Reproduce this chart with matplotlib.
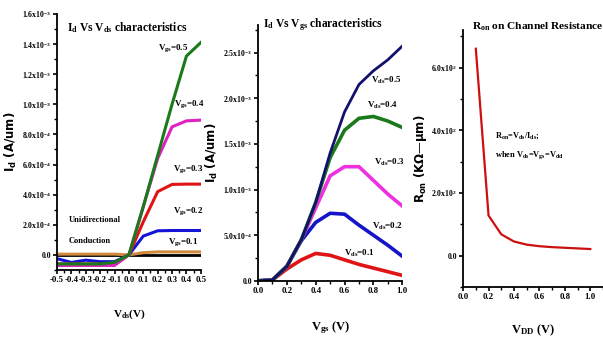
import numpy as np
import matplotlib
matplotlib.use('Agg')
import matplotlib.pyplot as plt
from matplotlib.ticker import MultipleLocator, FixedLocator

plt.rcParams['font.family'] = ['Liberation Serif', 'DejaVu Serif']
plt.rcParams['font.weight'] = 'bold'
plt.rcParams['mathtext.default'] = 'regular'

# Id vs Vds (Vgs = 0 .. 0.5)
vds = [-0.5, -0.4, -0.3, -0.2, -0.1, 0.0, 0.1, 0.2, 0.3, 0.4, 0.5]
id_vgs0 = [0, 0, 0, 0, 0, 0, 0, 0, 0, 0, 0]
id_vgs01 = [0.5e-5, 0.5e-5, 0.5e-5, 0.5e-5, 0.5e-5, 0, 1.5e-5, 2.0e-5, 2.0e-5, 2.0e-5, 2.0e-5]
id_vgs02 = [-2.5e-5, -5e-5, -3.5e-5, -4.5e-5, -4.5e-5, 0, 1.25e-4, 1.6e-4, 1.62e-4, 1.62e-4, 1.62e-4]
id_vgs03 = [-6e-5, -6e-5, -6e-5, -6e-5, -6e-5, 0, 2.2e-4, 4.2e-4, 4.68e-4, 4.7e-4, 4.7e-4]
id_vgs04 = [-7e-5, -7e-5, -7e-5, -7e-5, -7e-5, 0, 3.2e-4, 6.4e-4, 8.5e-4, 8.9e-4, 8.95e-4]
id_vgs05 = [-6e-5, -6e-5, -6e-5, -6e-5, -5e-5, 0, 3.2e-4, 6.6e-4, 1.0e-3, 1.32e-3, 1.41e-3]
vds_ticks = [-0.5, -0.4, -0.3, -0.2, -0.1, 0.0, 0.1, 0.2, 0.3, 0.4, 0.5]
vds_labels = ['-0.5', '-0.4', '-0.3', '-0.2', '-0.1', '0.0', '0.1', '0.2', '0.3', '0.4', '0.5']

# Id vs Vgs (Vds = 0.1 .. 0.5)
vgs = [0.0, 0.1, 0.2, 0.3, 0.4, 0.5, 0.6, 0.7, 0.8, 0.9, 1.0]
id_vds01 = [0, 0.1e-4, 1.3e-4, 2.3e-4, 3.0e-4, 2.8e-4, 2.3e-4, 1.8e-4, 1.4e-4, 1.0e-4, 0.6e-4]
id_vds02 = [0, 0.1e-4, 1.6e-4, 4.4e-4, 6.4e-4, 7.4e-4, 7.3e-4, 6.1e-4, 5.0e-4, 3.9e-4, 2.7e-4]
id_vds03 = [0, 0.1e-4, 1.6e-4, 4.5e-4, 8.0e-4, 1.15e-3, 1.25e-3, 1.25e-3, 1.1e-3, 9.5e-4, 8.2e-4]
id_vds04 = [0, 0.1e-4, 1.6e-4, 4.5e-4, 8.6e-4, 1.35e-3, 1.65e-3, 1.78e-3, 1.8e-3, 1.75e-3, 1.68e-3]
id_vds05 = [0, 0.1e-4, 1.6e-4, 4.5e-4, 8.6e-4, 1.4e-3, 1.85e-3, 2.15e-3, 2.3e-3, 2.42e-3, 2.57e-3]
unit_ticks = [0, 0.2, 0.4, 0.6, 0.8, 1.0]
unit_labels = ['0.0', '0.2', '0.4', '0.6', '0.8', '1.0']

# Ron vs Vdd
vdd = [0.1, 0.2, 0.3, 0.4, 0.5, 0.6, 0.7, 0.8, 0.9, 1.0]
ron = [660, 128, 68, 45, 35, 30, 27, 25, 23, 21]

y1 = [0, 2e-4, 4e-4, 6e-4, 8e-4, 1.0e-3, 1.2e-3, 1.4e-3, 1.6e-3]
y2 = [0, 5e-4, 1.0e-3, 1.5e-3, 2.0e-3, 2.5e-3]
y3 = [0, 200, 400, 600]

fig = plt.figure(figsize=(6.03, 3.4), dpi=100)
ax1 = fig.add_axes([0.0945, 0.206, 0.2385, 0.753])
ax2 = fig.add_axes([0.428, 0.174, 0.239, 0.752])
ax3 = fig.add_axes([0.768, 0.156, 0.232, 0.756])

tick_font = dict(family='Liberation Serif', weight='bold', size=5.6)


def style(ax):
    for s in ['top', 'right']:
        ax.spines[s].set_visible(False)
    for s in ['left', 'bottom']:
        ax.spines[s].set_linewidth(1.3)
    ax.tick_params(which='major', length=3, width=1.2, pad=1.2)
    ax.tick_params(which='minor', length=2, width=1.0)
    for lab in ax.get_xticklabels() + ax.get_yticklabels():
        lab.set_fontproperties(tick_font)
    for lab in ax.get_xticklabels():
        lab.set_fontsize(6.3)


def sci(v):
    if v == 0:
        return '0.0'
    exp = int(np.floor(np.log10(v) + 1e-9))
    return r'%.1fx10$^{%d}$' % (v / 10 ** exp, exp)


ylab_kw = dict(family='DejaVu Sans', fontsize=8.5, fontweight='bold', labelpad=2)
lab_kw = dict(fontsize=6.5, fontweight='bold', ha='center', va='center')

# ---- panel 1
ax1.plot(vds, id_vgs0, color='black', lw=2.0)
ax1.plot(vds, id_vgs01, color='#d08a40', lw=2.2)
ax1.plot(vds, id_vgs02, color='#1414d8', lw=2.2)
ax1.plot(vds, id_vgs03, color='#e01414', lw=2.2)
ax1.plot(vds, id_vgs04, color='#e020c0', lw=2.2)
ax1.plot(vds, id_vgs05, color='#1a7a1a', lw=2.2)
ax1.set_xlim(-0.5, 0.5)
ax1.set_ylim(-1e-4, 1.6e-3)
ax1.set_xticks(vds_ticks)
ax1.set_xticklabels(vds_labels)
ax1.xaxis.set_minor_locator(MultipleLocator(0.05))
ax1.yaxis.set_major_locator(FixedLocator(y1))
ax1.set_yticklabels([sci(v) for v in y1])
ax1.yaxis.set_minor_locator(MultipleLocator(1e-4))
style(ax1)
ax1.set_title(r'I$_{d}$ Vs V$_{ds}$ characteristics', fontsize=8.3, fontweight='bold', x=0.49, y=0.9)
ax1.set_xlabel(r'V$_{ds}$(V)', fontsize=8, fontweight='bold', labelpad=17)
ax1.set_ylabel(r'I$_{d}$ (A/um)', **ylab_kw)
ax1.text(0.31, 1.37e-3, r'V$_{gs}$=0.5', **lab_kw)
ax1.text(0.42, 1.0e-3, r'V$_{gs}$=0.4', **lab_kw)
ax1.text(0.41, 0.57e-3, r'V$_{gs}$=0.3', **lab_kw)
ax1.text(0.41, 0.29e-3, r'V$_{gs}$=0.2', **lab_kw)
ax1.text(0.38, 0.085e-3, r'V$_{gs}$=0.1', **lab_kw)
ax1.text(-0.42, 0.23e-3, 'Unidirectional', fontsize=6, fontweight='bold', ha='left', va='center')
ax1.text(-0.42, 0.095e-3, 'Conduction', fontsize=6, fontweight='bold', ha='left', va='center')

# ---- panel 2
ax2.plot(vgs, id_vds01, color='#e01414', lw=2.6)
ax2.plot(vgs, id_vds02, color='#1414c8', lw=2.6)
ax2.plot(vgs, id_vds03, color='#ee30e0', lw=2.6)
ax2.plot(vgs, id_vds04, color='#1a7a1a', lw=2.6)
ax2.plot(vgs, id_vds05, color='#12126e', lw=2.0)
ax2.set_xlim(0, 1.0)
ax2.set_ylim(0, 2.8e-3)
ax2.set_xticks(unit_ticks)
ax2.set_xticklabels(unit_labels)
ax2.xaxis.set_minor_locator(MultipleLocator(0.1))
ax2.yaxis.set_major_locator(FixedLocator(y2))
ax2.set_yticklabels([sci(v) for v in y2])
ax2.yaxis.set_minor_locator(MultipleLocator(2.5e-4))
style(ax2)
ax2.set_title(r'I$_{d}$ Vs V$_{gs}$ characteristics', fontsize=8.3, fontweight='bold', x=0.45, y=0.96)
ax2.set_xlabel(r'V$_{gs}$ (V)', fontsize=9, fontweight='bold', labelpad=18)
ax2.set_ylabel(r'I$_{d}$ (A/um)', **ylab_kw)
ax2.text(0.89, 2.2e-3, r'V$_{ds}$=0.5', **lab_kw)
ax2.text(0.86, 1.92e-3, r'V$_{ds}$=0.4', **lab_kw)
ax2.text(0.91, 1.3e-3, r'V$_{ds}$=0.3', **lab_kw)
ax2.text(0.9, 0.6e-3, r'V$_{ds}$=0.2', **lab_kw)
ax2.text(0.7, 0.3e-3, r'V$_{ds}$=0.1', **lab_kw)

# ---- panel 3
ax3.plot(vdd, ron, color='#cc1010', lw=1.6)
ax3.set_xlim(0, 1.1)
ax3.set_ylim(-100, 720)
ax3.set_xticks(unit_ticks)
ax3.set_xticklabels(unit_labels)
ax3.xaxis.set_minor_locator(FixedLocator([0.1, 0.3, 0.5, 0.7, 0.9, 1.1]))
ax3.yaxis.set_major_locator(FixedLocator(y3))
ax3.set_yticklabels([sci(v) for v in y3])
ax3.yaxis.set_minor_locator(MultipleLocator(100))
style(ax3)
ax3.set_title(r'R$_{on}$ on Channel Resistance', fontsize=8.2, fontweight='bold', x=0.535, y=0.97)
ax3.set_xlabel(r'V$_{DD}$ (V)', fontsize=9, fontweight='bold', labelpad=16)
ax3.set_ylabel(u'R$_{on}$ (K\u03a9\u2014\u03bcm)', **ylab_kw)
ax3.text(0.25, 384, r'R$_{on}$=V$_{ds}$/I$_{ds}$;', fontsize=6, fontweight='bold', ha='left', va='center')
ax3.text(0.25, 320, r'when V$_{ds}$=V$_{gs}$=V$_{dd}$', fontsize=6, fontweight='bold', ha='left', va='center')

fig.savefig('out.png', dpi=100)
